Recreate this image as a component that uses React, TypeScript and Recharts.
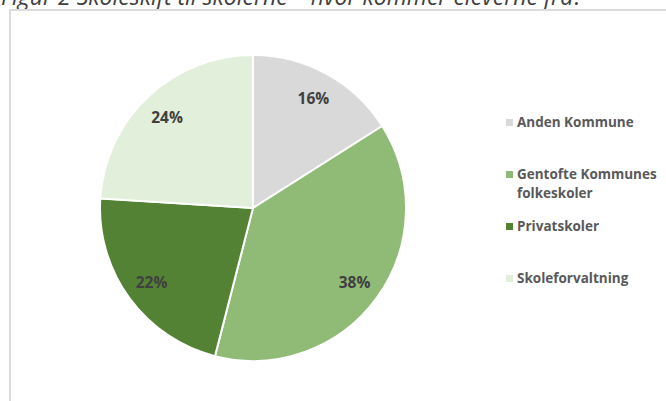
import { PieChart, Pie, Cell, Legend } from 'recharts'

const categories = ['Anden Kommune', 'Gentofte Kommunes folkeskoler', 'Privatskoler', 'Skoleforvaltning']
const shares = [16, 38, 22, 24]
const colors = ['#d9d9d9', '#90bb77', '#548235', '#e2efda']

const data = categories.map((name, i) => ({ name, value: shares[i] }))

const FONT = '"Open Sans", sans-serif'
const RAD = Math.PI / 180

function renderLabel(props: any) {
  const { cx, cy, midAngle, outerRadius, value } = props
  const r = outerRadius * 0.82
  const x = cx + r * Math.cos(-midAngle * RAD)
  const y = cy + r * Math.sin(-midAngle * RAD)
  return (
    <text x={x} y={y} textAnchor="middle" dominantBaseline="central"
      fontFamily={FONT} fontWeight={700} fontSize={15.5} fill="#404040">
      {value}%
    </text>
  )
}

function LegendContent() {
  return (
    <div style={{ fontFamily: FONT, fontWeight: 700, fontSize: 13.5, color: '#595959', lineHeight: '19px' }}>
      {data.map((d, i) => (
        <div key={d.name} style={{ height: 52, display: 'flex', alignItems: 'flex-start' }}>
          <span style={{ width: 7, height: 7, background: colors[i], marginTop: 6, marginRight: 4, flexShrink: 0 }} />
          <span>{d.name}</span>
        </div>
      ))}
    </div>
  )
}

export default function App() {
  return (
    <div style={{ position: 'absolute', left: 0, top: 0, width: 666, height: 401, overflow: 'hidden', background: '#fff' }}>
      <svg width={666} height={20} style={{ position: 'absolute', left: 0, top: 0 }}>
        <text x={1} y={5} fontFamily={FONT} fontStyle="italic" fontSize={23} fill="#404040">
          Figur 2 Skoleskift til skolerne – hvor kommer eleverne fra?
        </text>
      </svg>
      <div style={{ position: 'absolute', left: 9, top: 9, width: 720, height: 440, border: '2px solid #dcdcdc' }} />
      <div style={{ position: 'absolute', left: 0, top: 0 }}>
        <PieChart width={666} height={401} margin={{ top: 0, right: 0, bottom: 0, left: 0 }}>
          <Pie
            data={data}
            dataKey="value"
            nameKey="name"
            cx={253}
            cy={208}
            outerRadius={153}
            startAngle={90}
            endAngle={-270}
            stroke="#fff"
            strokeWidth={2}
            label={renderLabel}
            labelLine={false}
            isAnimationActive={false}
          >
            {data.map((d, i) => <Cell key={d.name} fill={colors[i]} />)}
          </Pie>
          <Legend
            layout="vertical"
            content={<LegendContent />}
            wrapperStyle={{ left: 506, top: 113, width: 158 }}
          />
        </PieChart>
      </div>
    </div>
  )
}
